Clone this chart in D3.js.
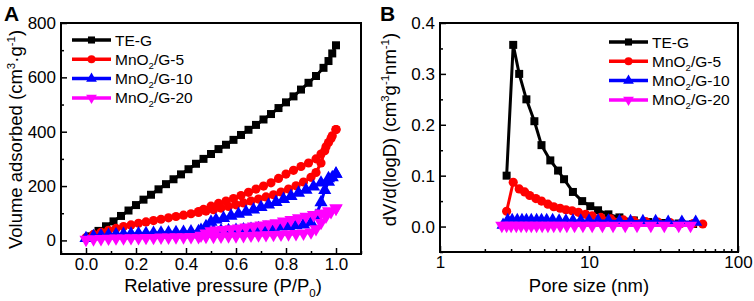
<!DOCTYPE html>
<html lang="en">
<head>
  <meta charset="UTF-8">
  <title>Isotherms and pore size</title>
  <script src="https://d3js.org/d3.v7.min.js"></script>
  <style>
    body { margin: 0; background: #fff; }
    text { font-family: "Liberation Sans", Arial, sans-serif; }
  </style>
</head>
<body>
  <div id="chart"></div>
  <script>
    // series names and colours
    const names = ["TE-G", "MnO2/G-5", "MnO2/G-10", "MnO2/G-20"];
    const colors = ["#000000", "#ff0000", "#0000ff", "#ff00ff"];
    const symbols = [d3.symbolSquare, d3.symbolCircle, d3.symbolTriangle, "down"];

    // panel A: relative pressure vs volume adsorbed
    const aTeG = [[0.02,15],[0.05,35],[0.08,52],[0.11,70],[0.14,90],[0.17,110],[0.20,130],[0.23,150],[0.26,168],[0.29,188],[0.32,207],[0.35,225],[0.38,243],[0.41,262],[0.44,282],[0.47,300],[0.50,318],[0.53,336],[0.56,352],[0.59,370],[0.62,388],[0.65,407],[0.68,425],[0.71,445],[0.74,465],[0.77,487],[0.80,508],[0.83,530],[0.86,555],[0.89,580],[0.92,605],[0.95,635],[0.97,660],[0.985,688],[1.0,718]];
    const aG5Ads = [[0.0,10],[0.03,22],[0.06,30],[0.09,37],[0.12,44],[0.15,51],[0.18,57],[0.21,63],[0.24,68],[0.27,73],[0.30,78],[0.33,83],[0.36,88],[0.39,93],[0.42,98],[0.45,103],[0.48,108],[0.51,113],[0.54,119],[0.57,125],[0.60,131],[0.63,138],[0.66,145],[0.69,152],[0.72,160],[0.75,168],[0.78,178],[0.81,189],[0.84,201],[0.87,215],[0.90,232],[0.92,250],[0.94,285],[0.955,330],[0.97,360],[0.985,385],[1.0,408]];
    const aG5Des = [[1.0,408],[0.98,375],[0.96,345],[0.94,318],[0.92,300],[0.89,285],[0.86,272],[0.83,258],[0.80,244],[0.77,228],[0.74,212],[0.71,200],[0.68,189],[0.65,177],[0.62,165],[0.59,154],[0.56,145],[0.53,136],[0.50,126],[0.47,114],[0.45,106]];
    const aG10Ads = [[0.0,8],[0.03,15],[0.06,18],[0.09,20],[0.12,22],[0.15,23],[0.18,24],[0.21,25],[0.24,26],[0.27,27],[0.30,28],[0.33,29],[0.36,30],[0.39,31],[0.42,32],[0.45,33],[0.48,34],[0.51,35],[0.54,36],[0.57,37],[0.60,38],[0.63,40],[0.66,42],[0.69,44],[0.72,46],[0.75,48],[0.78,50],[0.81,52],[0.84,55],[0.87,58],[0.90,66],[0.92,90],[0.94,140],[0.955,185],[0.97,215],[0.985,232],[1.0,245]];
    const aG10Des = [[1.0,245],[0.97,228],[0.94,212],[0.91,198],[0.88,186],[0.85,175],[0.82,163],[0.79,152],[0.76,141],[0.73,131],[0.70,122],[0.67,113],[0.64,105],[0.61,97],[0.58,90],[0.55,82],[0.52,76],[0.50,68],[0.48,52],[0.46,38]];
    const aG20Ads = [[0.0,3],[0.03,5],[0.06,6],[0.09,7],[0.12,8],[0.15,8],[0.18,9],[0.21,9],[0.24,10],[0.27,10],[0.30,11],[0.33,11],[0.36,12],[0.39,12],[0.42,13],[0.45,13],[0.48,14],[0.51,14],[0.54,15],[0.57,16],[0.60,16],[0.63,17],[0.66,18],[0.69,19],[0.72,20],[0.75,21],[0.78,22],[0.81,23],[0.84,24],[0.87,26],[0.90,30],[0.92,42],[0.94,65],[0.96,88],[0.98,105],[1.0,118]];
    const aG20Des = [[1.0,118],[0.97,108],[0.94,100],[0.91,94],[0.88,88],[0.85,82],[0.82,76],[0.79,70],[0.76,64],[0.73,60],[0.70,56],[0.67,52],[0.64,48],[0.61,45],[0.58,42],[0.55,39],[0.52,37],[0.50,34],[0.48,26],[0.46,18]];
    const aXTicks = [0.0, 0.2, 0.4, 0.6, 0.8, 1.0];
    const aYTicks = [0, 200, 400, 600, 800];

    // panel B: pore size distribution
    const bTeG = [[2.8,0.10],[3.1,0.357],[3.4,0.30],[3.8,0.25],[4.3,0.207],[4.8,0.16],[5.5,0.13],[6.2,0.11],[6.8,0.093],[7.8,0.068],[9.0,0.05],[10.2,0.04],[11.5,0.032],[13.5,0.024],[16,0.018],[20,0.012],[25,0.009],[32,0.007],[40,0.006],[50,0.005]];
    const bG5 = [[2.8,0.03],[3.1,0.087],[3.4,0.074],[3.7,0.068],[4.0,0.061],[4.4,0.055],[4.8,0.05],[5.3,0.044],[5.8,0.039],[6.4,0.036],[7.0,0.033],[7.7,0.031],[8.5,0.028],[9.5,0.024],[10.5,0.021],[12,0.018],[14,0.015],[17,0.013],[20,0.011],[24,0.01],[29,0.009],[35,0.008],[42,0.007],[50,0.006],[58,0.005]];
    const bG10 = [[2.65,0.003],[2.85,0.012],[3.05,0.012],[3.3,0.012],[3.55,0.012],[3.8,0.012],[4.1,0.012],[4.45,0.012],[4.8,0.012],[5.2,0.012],[5.7,0.012],[6.3,0.011],[7.0,0.011],[7.8,0.011],[8.8,0.011],[10,0.011],[11.5,0.011],[13.5,0.011],[16,0.010],[19,0.010],[23,0.010],[28,0.010],[34,0.009],[42,0.009],[52,0.009]];
    const bG20 = [[2.6,0.002],[2.8,0.002],[3.0,0.002],[3.25,0.002],[3.5,0.002],[3.8,0.002],[4.1,0.002],[4.45,0.002],[4.85,0.002],[5.3,0.002],[5.8,0.002],[6.4,0.002],[7.1,0.002],[8.0,0.002],[9.1,0.002],[10.5,0.002],[12.3,0.002],[14.5,0.002],[17.5,0.002],[21,0.002],[26,0.002],[32,0.002],[40,0.002],[48,0.002]];
    const bXTicks = [1, 10, 100];
    const bXMinor = [2,3,4,5,6,7,8,9,20,30,40,50,60,70,80,90];
    const bYTicks = [0.0, 0.1, 0.2, 0.3, 0.4];

    const width = 754, height = 301;
    const svg = d3.select("#chart").append("svg")
      .attr("width", width).attr("height", height);

    function symbolPath(i, size) {
      if (symbols[i] === "down") {
        return d3.symbol().type(d3.symbolTriangle).size(size)();
      }
      return d3.symbol().type(symbols[i]).size(size)();
    }
    function symbolRotate(i) {
      return symbols[i] === "down" ? " rotate(180)" : "";
    }

    // text with sub/superscripts: parts = [[text, "n"|"sub"|"sup"], ...]
    function richText(sel, parts, size) {
      let shift = 0;
      parts.forEach(([t, kind]) => {
        const target = kind === "sub" ? 0.25 * size : kind === "sup" ? -0.4 * size : 0;
        sel.append("tspan")
          .attr("dy", target - shift)
          .attr("font-size", kind === "n" ? size : size * 0.62)
          .text(t);
        shift = target;
      });
    }
    function nameParts(n) {
      if (n.startsWith("MnO2")) return [["MnO", "n"], ["2", "sub"], [n.slice(4), "n"]];
      return [[n, "n"]];
    }

    function drawAxes(g, x, y, box, opts) {
      g.append("g").attr("transform", `translate(0,${box.bottom})`)
        .call(d3.axisBottom(x).tickValues(opts.xMinor).tickSize(-3).tickFormat(""))
        .call(a => a.select(".domain").remove());
      g.append("g").attr("transform", `translate(0,${box.bottom})`)
        .call(d3.axisBottom(x).tickValues(opts.xTicks).tickSize(-6).tickPadding(4).tickFormat(opts.xFormat))
        .call(a => a.select(".domain").remove())
        .call(a => a.selectAll("text").attr("font-size", 17).attr("fill", "#000"));
      g.append("g").attr("transform", `translate(${box.left},0)`)
        .call(d3.axisLeft(y).tickValues(opts.yMinor).tickSize(-3).tickFormat(""))
        .call(a => a.select(".domain").remove());
      g.append("g").attr("transform", `translate(${box.left},0)`)
        .call(d3.axisLeft(y).tickValues(opts.yTicks).tickSize(-6).tickPadding(5).tickFormat(opts.yFormat))
        .call(a => a.select(".domain").remove())
        .call(a => a.selectAll("text").attr("font-size", 17).attr("fill", "#000"));
      g.selectAll(".tick line").attr("stroke", "#000").attr("stroke-width", 1.5);
      g.append("rect")
        .attr("x", box.left).attr("y", box.top)
        .attr("width", box.right - box.left).attr("height", box.bottom - box.top)
        .attr("fill", "none").attr("stroke", "#000").attr("stroke-width", 2);
    }

    function drawSeries(g, pts, i, x, y, msize) {
      g.append("path")
        .datum(pts)
        .attr("fill", "none")
        .attr("stroke", colors[i])
        .attr("stroke-width", 3)
        .attr("stroke-linejoin", "round")
        .attr("d", d3.line().x(d => x(d[0])).y(d => y(d[1])));
      g.selectAll(null)
        .data(pts)
        .enter()
        .append("path")
        .attr("transform", d => `translate(${x(d[0])},${y(d[1])})` + symbolRotate(i))
        .attr("d", symbolPath(i, msize[i]))
        .attr("fill", colors[i]);
    }

    function drawLegend(g, lx, ly, dy) {
      names.forEach((n, i) => {
        const yy = ly + i * dy;
        g.append("line")
          .attr("x1", lx).attr("x2", lx + 39)
          .attr("y1", yy).attr("y2", yy)
          .attr("stroke", colors[i]).attr("stroke-width", 3.5);
        g.append("path")
          .attr("transform", `translate(${lx + 19.5},${yy})` + symbolRotate(i))
          .attr("d", symbolPath(i, 50))
          .attr("fill", colors[i]);
        const t = g.append("text")
          .attr("x", lx + 43).attr("y", yy + 5.5)
          .attr("fill", "#000");
        richText(t, nameParts(n), 15.5);
      });
    }

    // ---- panel A ----
    const boxA = { left: 61, right: 361, top: 23, bottom: 254 };
    const xA = d3.scaleLinear().domain([-0.1, 1.1]).range([boxA.left, boxA.right]);
    const yA = d3.scaleLinear().domain([-50, 800]).range([boxA.bottom, boxA.top]);
    const gA = svg.append("g");

    const msizeA = [64, 66, 75, 75];
    drawSeries(gA, aTeG, 0, xA, yA, msizeA);
    drawSeries(gA, aG5Ads.concat(aG5Des), 1, xA, yA, msizeA);
    drawSeries(gA, aG10Ads.concat(aG10Des), 2, xA, yA, msizeA);
    drawSeries(gA, aG20Ads.concat(aG20Des), 3, xA, yA, msizeA);

    drawAxes(gA, xA, yA, boxA, {
      xTicks: aXTicks, xMinor: [-0.1, 0.1, 0.3, 0.5, 0.7, 0.9, 1.1],
      yTicks: aYTicks, yMinor: [100, 300, 500, 700],
      xFormat: d3.format(".1f"), yFormat: d3.format("d")
    });
    drawLegend(gA, 72, 40, 19.3);

    gA.append("text").attr("x", 4).attr("y", 21)
      .attr("font-size", 21).attr("font-weight", "bold").text("A");
    const yLabA = gA.append("text")
      .attr("transform", `translate(22,${(boxA.top + boxA.bottom) / 2 + 1}) rotate(-90)`)
      .attr("text-anchor", "middle");
    richText(yLabA, [["Volume adsorbed (cm", "n"], ["3", "sup"], ["·g", "n"], ["-1", "sup"], [")", "n"]], 18.5);
    const xLabA = gA.append("text")
      .attr("x", (boxA.left + boxA.right) / 2 + 12).attr("y", 292)
      .attr("text-anchor", "middle");
    richText(xLabA, [["Relative pressure (P/P", "n"], ["0", "sub"], [")", "n"]], 18.5);

    // ---- panel B ----
    const boxB = { left: 440, right: 738, top: 23, bottom: 252 };
    const xB = d3.scaleLog().domain([1, 100]).range([boxB.left, boxB.right]);
    const yB = d3.scaleLinear().domain([-0.05, 0.4]).range([boxB.bottom, boxB.top]);
    const gB = svg.append("g");

    const msizeB = [64, 66, 75, 75];
    drawSeries(gB, bTeG, 0, xB, yB, msizeB);
    drawSeries(gB, bG5, 1, xB, yB, msizeB);
    drawSeries(gB, bG10, 2, xB, yB, msizeB);
    drawSeries(gB, bG20, 3, xB, yB, msizeB);

    drawAxes(gB, xB, yB, boxB, {
      xTicks: bXTicks, xMinor: bXMinor,
      yTicks: bYTicks, yMinor: [-0.05, 0.05, 0.15, 0.25, 0.35],
      xFormat: d3.format("d"), yFormat: d3.format(".1f")
    });
    drawLegend(gB, 609, 42, 19.3);

    gB.append("text").attr("x", 380).attr("y", 21)
      .attr("font-size", 21).attr("font-weight", "bold").text("B");
    const yLabB = gB.append("text")
      .attr("transform", `translate(396,${(boxB.top + boxB.bottom) / 2 - 8}) rotate(-90)`)
      .attr("text-anchor", "middle");
    richText(yLabB, [["dV/d(logD) (cm", "n"], ["3", "sup"], ["g", "n"], ["-1", "sup"], ["nm", "n"], ["-1", "sup"], [")", "n"]], 18.5);
    gB.append("text")
      .attr("x", 589).attr("y", 292)
      .attr("text-anchor", "middle")
      .attr("font-size", 18.5)
      .text("Pore size (nm)");
  </script>
</body>
</html>
